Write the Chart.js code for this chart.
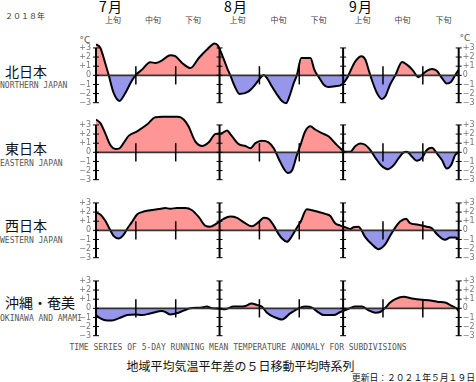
<!DOCTYPE html>
<html>
<head>
<meta charset="utf-8">
<script src="https://cdn.jsdelivr.net/npm/chart.js@4.4.0/dist/chart.umd.min.js"></script>
<style>
html,body{margin:0;padding:0;background:#fff}
#wrap{position:relative;width:476px;height:382px;overflow:hidden;background:#fff}
.t{position:absolute;white-space:nowrap;line-height:1}
.jp{font-family:"Noto Sans CJK JP",sans-serif;color:#111}
.mono{font-family:"DejaVu Sans Mono","Liberation Mono",monospace;font-size:8px;color:#555}
.cv{position:absolute;left:70px}
</style>
</head>
<body>
<div id="wrap"></div>
<script>
// day index: 0 = Jul 1, 91 = Sep 30; values in degC
const north=[[0,3.4],[1.1,3.0],[2.3,1.35],[3.2,0],[4.4,-1.9],[5.9,-2.8],[7.4,-1.9],[8.9,-0.66],[9.9,0],[11.5,0.6],[13.6,1.43],[14.9,1.35],[16.6,1.65],[18.6,2.2],[19.9,2.1],[21.6,1.35],[23.7,0.8],[25.8,1.9],[27.8,2.8],[29.8,3.5],[30.6,3.25],[31.6,2.27],[32.9,0.8],[33.7,0],[34.8,-1.2],[36.0,-2.05],[38.3,-1.75],[40.0,-1.0],[41.2,-0.3],[42.1,0.03],[42.9,-0.3],[44.1,-1.2],[45.4,-2.1],[46.7,-2.85],[47.7,-3.05],[48.7,-2.1],[49.6,-0.85],[50.4,0],[51.5,1.9],[53.8,1.9],[54.8,0.6],[55.9,-0.2],[57.1,-1.0],[58.2,-1.28],[60.0,-1.2],[61.7,-1.0],[63.0,-0.3],[63.8,0.45],[65.1,1.55],[66.6,2.1],[67.6,1.7],[68.4,0.6],[69.2,-0.5],[70.5,-1.95],[71.7,-2.6],[72.6,-2.3],[73.8,-1.0],[75.1,0],[76.8,1.47],[78.0,1.17],[79.4,0.6],[80.9,-0.2],[81.8,0.07],[83.0,0.5],[84.3,0.7],[85.5,0.5],[86.8,-0.3],[88.0,-0.9],[89.1,-0.7],[90.1,0],[91,0.6]];
const east=[[0,3.6],[1.1,3.2],[2.3,2.1],[3.6,0.8],[4.8,0.37],[5.9,0.44],[6.9,1.0],[8.2,1.8],[10.3,2.3],[12.8,3.04],[14.9,3.85],[16.6,3.9],[19.1,3.9],[20.6,3.9],[22.0,3.6],[23.2,2.85],[24.9,1.2],[26.6,0.7],[28.3,1.1],[29.9,2.0],[31.6,2.1],[32.9,2.4],[33.7,2.0],[35.8,0.9],[37.5,0.7],[38.7,0.45],[40.0,1.0],[41.6,1.26],[43.3,1.1],[44.6,0.44],[45.8,-0.67],[47.1,-1.78],[48.1,-2.26],[49.2,-1.96],[50.4,-0.3],[51.3,0.8],[52.5,2.3],[53.8,2.85],[55.0,2.5],[56.7,2.1],[58.4,1.74],[60.0,1.0],[61.3,0.44],[62.5,0.07],[63.8,0.07],[65.1,0.7],[66.3,0.96],[67.6,0.8],[68.8,0.26],[70.1,-0.6],[71.7,-1.5],[73.2,-1.85],[74.7,-1.4],[75.9,-0.67],[77.2,0],[78.0,0.07],[79.3,-0.48],[80.5,-0.93],[81.8,-0.6],[83.0,0.26],[84.3,0.5],[85.5,-0.1],[86.8,-0.85],[88.0,-1.78],[89.1,-1.4],[90.1,-0.3],[91,0]];
const west=[[0,1.93],[1.1,1.74],[2.3,1.07],[3.6,0],[4.4,-0.6],[5.7,-0.9],[6.9,-0.5],[7.8,0.15],[9.0,0.9],[10.3,1.74],[11.5,2.0],[13.6,2.2],[15.7,2.33],[17.4,2.44],[18.6,2.37],[20.3,2.44],[22.4,2.44],[24.1,2.2],[25.8,1.44],[27.4,0.52],[28.7,0.4],[30.4,0.78],[32.0,1.26],[33.7,1.52],[35.4,1.37],[37.0,0.9],[39.1,0.44],[40.8,0.9],[42.1,1.37],[43.3,1.26],[44.6,0.52],[45.7,-0.33],[46.8,-0.96],[47.9,-1.26],[49.2,-0.6],[50.2,0.15],[51.3,0.9],[52.9,2.3],[54.2,2.2],[55.9,2.0],[57.5,1.8],[58.8,1.56],[60.0,0.78],[61.3,0.52],[62.5,0.33],[63.8,0.15],[64.6,0.33],[65.9,0.4],[66.6,0],[67.6,-0.78],[69.2,-1.52],[70.9,-2.07],[72.6,-1.52],[73.8,-0.6],[75.1,0.33],[76.3,0.96],[77.8,1.26],[78.8,0.78],[80.5,0.63],[81.8,0.52],[83.0,0.4],[84.3,0.22],[85.5,-0.4],[87.6,-1.04],[88.9,-0.78],[90.1,-0.78],[91,-0.96]];
const okinawa=[[0,-0.74],[1.1,-1.1],[2.8,-1.33],[4.0,-1.33],[5.7,-1.1],[7.8,-0.74],[9.9,-0.67],[11.5,-0.74],[13.6,-0.56],[16.6,-0.3],[17.4,-0.4],[18.6,-0.67],[20.7,-0.48],[22.8,-0.1],[24.1,0.04],[26.2,0.07],[27.8,0.19],[29.1,0],[30.8,-0.04],[32.4,-0.1],[34.5,0.19],[36.2,0.19],[37.5,0.26],[39.0,0.52],[40.4,0.37],[41.6,0.19],[42.9,-0.48],[44.6,-0.93],[46.7,-1.22],[48.7,-0.56],[50.8,0],[52.5,0.19],[54.2,0.07],[55.9,-0.48],[57.1,-0.74],[59.6,-0.74],[61.3,-0.4],[63.4,-0.04],[65.1,0.19],[66.7,0.19],[68.4,-0.22],[70.1,-0.48],[71.3,-0.4],[72.6,0.07],[73.8,0.63],[75.1,1.0],[77.2,1.26],[79.3,1.07],[81.8,0.93],[83.4,0.89],[85.9,0.7],[87.6,0.63],[89.3,0.26],[90.4,0],[91,-0.3]];

const series=[north,east,west,okinawa];
const regionJa=['北日本','東日本','西日本','沖縄・奄美'];
const regionEn=['NORTHERN JAPAN','EASTERN JAPAN','WESTERN JAPAN','OKINAWA AND AMAMI'];
const monthLabels=['7月','8月','9月'];
const dekadLabels=['上旬','中旬','下旬'];
const yTickValues=[-3,-2,-1,0,1,2,3];
const yTickLabels=['−3','−2','−1','0','+1','+2','+3'];
const monthDays=[0,31,62,91];
const dekadDays=[10,20,41,51,72,82];

const RED='rgb(255,150,150)', BLUE='rgb(150,150,235)';
const wrap=document.getElementById('wrap');

function txt(s,x,y,cls,align,size){
  const d=document.createElement('div');
  d.className='t '+cls;d.textContent=s;
  d.style.left=x+'px';d.style.top=y+'px';
  if(size)d.style.fontSize=size+'px';
  const tx=align==='c'?'-50%':align==='r'?'-100%':'0';
  d.style.transform=`translate(${tx},-50%)`;
  wrap.appendChild(d);return d;
}

// header
txt('２０１８年',5,16,'jp','l',8).style.color='#333';
const monthX=[111,236,361];
monthLabels.forEach((m,i)=>{const e=txt(m,monthX[i],6,'jp','c',14);e.style.letterSpacing='1px';e.style.color='#000';});
const dekadX=[113,153,193,237.5,278.5,318.5,362.5,402.5,443.5];
dekadX.forEach((x,i)=>{const e=txt(dekadLabels[i%3],x,20,'jp','c',8);e.style.color='#444';});
const degL=txt('°C',85,39.5,'','c',9);degL.style.fontFamily='DejaVu Sans,sans-serif';degL.style.color='#555';
const degR=txt('°C',465,38,'','c',9);degR.style.fontFamily='DejaVu Sans,sans-serif';degR.style.color='#555';

// panels
const zeroY=[75,152.7,230.3,308.3];
const jaY=[70.5,147.7,225,302.3];
const enY=[86,164,241,319.3];
const YMIN=-3.8,YMAX=4.2,UNIT=9.1;

const axisPlugin={id:'axes',afterDatasetsDraw(c){
  const {ctx,scales:{x,y},chartArea:a}=c;
  const py=v=>y.getPixelForValue(v);
  ctx.save();
  ctx.strokeStyle='#333';ctx.lineWidth=1.6;
  ctx.beginPath();ctx.moveTo(a.left,py(0));ctx.lineTo(a.right,py(0));ctx.stroke();
  ctx.strokeStyle='#000';
  monthDays.forEach(d=>{
    const px=x.getPixelForValue(d);
    ctx.lineWidth=2;ctx.beginPath();ctx.moveTo(px,py(3));ctx.lineTo(px,py(-3));ctx.stroke();
    ctx.lineWidth=1;
    yTickValues.forEach(v=>{ctx.beginPath();ctx.moveTo(px-3,py(v));ctx.lineTo(px+3,py(v));ctx.stroke();});
  });
  ctx.lineWidth=1.5;
  dekadDays.forEach(d=>{
    const px=x.getPixelForValue(d);
    ctx.beginPath();ctx.moveTo(px,py(1));ctx.lineTo(px,py(-1));ctx.stroke();
  });
  ctx.restore();
}};

function yAxis(pos,w,pad){
  return {position:pos,min:YMIN,max:YMAX,
    grid:{display:false,drawTicks:false},border:{display:false},
    afterBuildTicks:s=>{s.ticks=yTickValues.map(v=>({value:v}));},
    afterFit:s=>{s.width=w;s.paddingTop=0;s.paddingBottom=0;},
    ticks:{padding:pad,color:'#777',autoSkip:false,font:{family:'DejaVu Sans, sans-serif',size:8},
      callback:v=>yTickLabels[yTickValues.indexOf(v)]}};
}

series.forEach((pts,i)=>{
  txt(regionJa[i],5,jaY[i],'jp','l',14);
  txt(regionEn[i],0,enY[i],'mono','l');
  const h=(YMAX-YMIN)*UNIT;
  const cv=document.createElement('canvas');
  cv.className='cv';cv.width=406;cv.height=Math.round(h);
  cv.style.top=(zeroY[i]-YMAX*UNIT)+'px';
  wrap.appendChild(cv);
  new Chart(cv,{type:'line',
    data:{datasets:[{data:pts.map(([x,y])=>({x,y})),borderColor:'#000',borderWidth:2,pointRadius:0,
      cubicInterpolationMode:'monotone',fill:{target:'origin',above:RED,below:BLUE},yAxisID:'y'}]},
    options:{responsive:false,animation:false,events:[],devicePixelRatio:1,
      layout:{padding:0,autoPadding:false},
      plugins:{legend:{display:false},tooltip:{enabled:false}},
      scales:{x:{type:'linear',min:0,max:91,display:false},
        y:yAxis('left',26,5),y2:yAxis('right',17.3,4)}},
    plugins:[axisPlugin]});
});

// footer
txt('TIME SERIES OF 5-DAY RUNNING MEAN TEMPERATURE ANOMALY FOR SUBDIVISIONS',238,348.3,'mono','c');
txt('地域平均気温平年差の５日移動平均時系列',240.5,366,'jp','c',12);
txt('更新日：２０２１年５月１９日',475,377.5,'jp','r',8.8);
</script>
</body>
</html>
